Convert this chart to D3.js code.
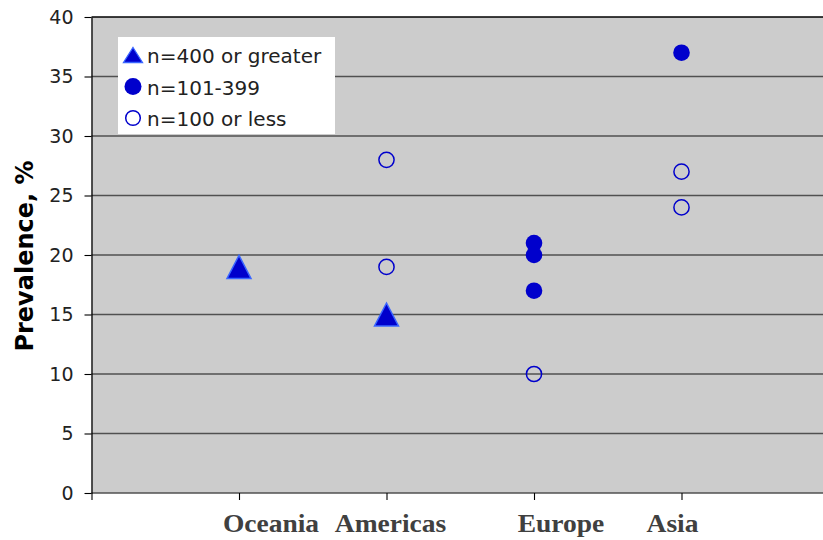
<!DOCTYPE html>
<html>
<head>
<meta charset="utf-8">
<script src="https://cdn.jsdelivr.net/npm/d3@7"></script>
<style>
  html, body { margin: 0; padding: 0; background: #ffffff; }
  svg { display: block; }
</style>
</head>
<body>
<svg id="chart" width="823" height="540"></svg>
<script>
// Regions along the x axis (positions 1..4)
const regions = ["Oceania", "Americas", "Europe", "Asia"];

// Prevalence (%) of each study, grouped by sample size
const largeStudies  = [ { region: "Oceania", value: 19 }, { region: "Americas", value: 15 } ];
const mediumStudies = [ { region: "Europe", value: 21 }, { region: "Europe", value: 20 },
                        { region: "Europe", value: 17 }, { region: "Asia", value: 37 } ];
const smallStudies  = [ { region: "Americas", value: 28 }, { region: "Americas", value: 19 },
                        { region: "Europe", value: 10 }, { region: "Asia", value: 27 },
                        { region: "Asia", value: 24 } ];

const yTicks = [0, 5, 10, 15, 20, 25, 30, 35, 40];
const legendLabels = ["n=400 or greater", "n=101-399", "n=100 or less"];

// Horizontal nudge of each region label relative to its tick (px)
const labelNudge = [32, 4, 27, -9];

const svg = d3.select("#chart");
const plotLeft = 91.5, plotTop = 17, plotBottom = 493, plotRightEnd = 829;

const x = d3.scaleLinear().domain([0, 5]).range([plotLeft, plotRightEnd]);
const y = d3.scaleLinear().domain([0, 40]).range([plotBottom, plotTop]);
const xPos = r => x(regions.indexOf(r) + 1);

const blue = "#0000cc";

// plot background
svg.append("rect")
  .attr("x", plotLeft).attr("y", plotTop)
  .attr("width", 823 - plotLeft).attr("height", plotBottom - plotTop)
  .attr("fill", "#cccccc");

// horizontal gridlines
svg.append("g").selectAll("line")
  .data(yTicks.filter(t => t < 40))
  .join("line")
  .attr("x1", plotLeft).attr("x2", 823)
  .attr("y1", d => y(d)).attr("y2", d => y(d))
  .attr("stroke", "#505050").attr("stroke-width", 1.4);

// top border
svg.append("line")
  .attr("x1", plotLeft).attr("x2", 823)
  .attr("y1", y(40)).attr("y2", y(40))
  .attr("stroke", "#000").attr("stroke-width", 1.3);

// y axis
const yAxis = svg.append("g")
  .attr("transform", `translate(${plotLeft},0)`)
  .call(d3.axisLeft(y).tickValues(yTicks).tickSize(7).tickSizeOuter(0).tickPadding(11));
yAxis.select(".domain").attr("stroke", "#000").attr("stroke-width", 1.3);
yAxis.selectAll(".tick line").attr("stroke", "#000").attr("stroke-width", 1.1);
yAxis.selectAll(".tick text")
  .attr("font-family", "DejaVu Sans, Verdana, sans-serif")
  .attr("font-size", 19).attr("fill", "#222");

// x axis ticks
const xAxis = svg.append("g")
  .attr("transform", `translate(0,${plotBottom})`)
  .call(d3.axisBottom(x).tickValues([0, 1, 2, 3, 4]).tickSize(7).tickSizeOuter(0).tickFormat(""));
xAxis.select(".domain").remove();
xAxis.selectAll(".tick line").attr("stroke", "#000").attr("stroke-width", 1.1);

// region labels (bold serif, slightly widened)
svg.append("g").selectAll("text")
  .data(regions)
  .join("text")
  .attr("transform", (d, i) => `translate(${x(i + 1) + labelNudge[i]},532) scale(1.1,1)`)
  .attr("text-anchor", "middle")
  .attr("font-family", "Liberation Serif, Times New Roman, serif")
  .attr("font-weight", "bold")
  .attr("font-size", 25)
  .attr("fill", "#404040")
  .text(d => d);

// y axis title
svg.append("text")
  .attr("transform", "translate(33,256) rotate(-90)")
  .attr("text-anchor", "middle")
  .attr("font-family", "DejaVu Sans, Verdana, sans-serif")
  .attr("font-weight", "bold")
  .attr("font-size", 24)
  .attr("fill", "#000")
  .text("Prevalence, %");

// isosceles triangle path centred on (0,0)
const triangle = (w, h) => `M0,${-h / 2}L${w / 2},${h / 2}L${-w / 2},${h / 2}Z`;

// markers: large studies (triangles)
svg.append("g").selectAll("path")
  .data(largeStudies)
  .join("path")
  .attr("transform", d => `translate(${xPos(d.region)},${y(d.value)})`)
  .attr("d", triangle(24, 23))
  .attr("fill", blue).attr("stroke", "#3a66ff").attr("stroke-width", 1.5);

// medium studies (filled circles)
svg.append("g").selectAll("circle")
  .data(mediumStudies)
  .join("circle")
  .attr("cx", d => xPos(d.region)).attr("cy", d => y(d.value))
  .attr("r", 8.3)
  .attr("fill", blue);

// small studies (open circles)
svg.append("g").selectAll("circle")
  .data(smallStudies)
  .join("circle")
  .attr("cx", d => xPos(d.region)).attr("cy", d => y(d.value))
  .attr("r", 7.6)
  .attr("fill", "none").attr("stroke", blue).attr("stroke-width", 1.5);

// legend
const legend = svg.append("g");
legend.append("rect")
  .attr("x", 118).attr("y", 37).attr("width", 217).attr("height", 97)
  .attr("fill", "#fff");

const rows = legend.selectAll("g.row")
  .data(legendLabels)
  .join("g")
  .attr("class", "row")
  .attr("transform", (d, i) => `translate(133,${55 + i * 31.5})`);

rows.filter((d, i) => i === 0).append("path")
  .attr("d", triangle(19, 15))
  .attr("fill", blue).attr("stroke", "#3a66ff").attr("stroke-width", 1.3);
rows.filter((d, i) => i === 1).append("circle")
  .attr("r", 8.5).attr("fill", blue);
rows.filter((d, i) => i === 2).append("circle")
  .attr("r", 7.3).attr("fill", "#fff").attr("stroke", blue).attr("stroke-width", 1.5);

rows.append("text")
  .attr("x", 14).attr("y", 8)
  .attr("font-family", "DejaVu Sans, Verdana, sans-serif")
  .attr("font-size", 20)
  .attr("fill", "#222")
  .text(d => d);
</script>
</body>
</html>
